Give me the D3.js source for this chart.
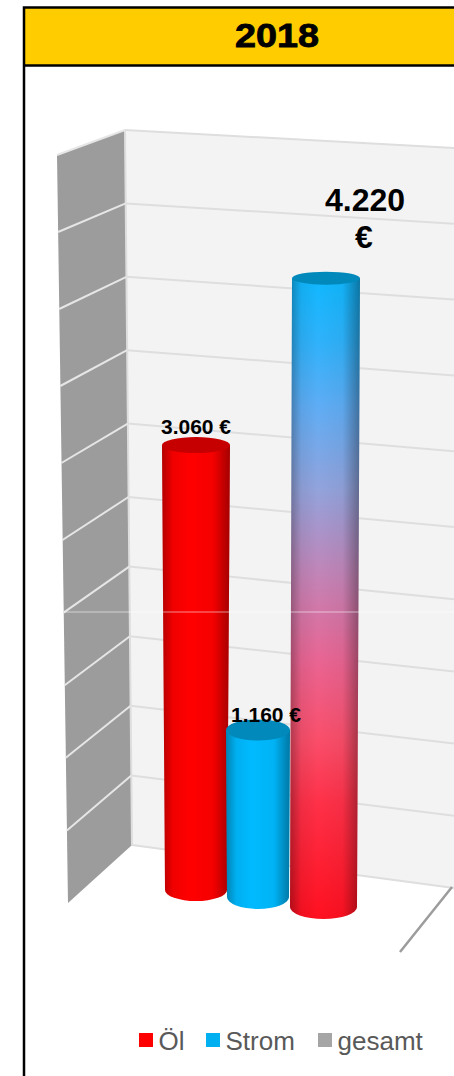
<!DOCTYPE html>
<html>
<head>
<meta charset="utf-8">
<script src="https://cdn.jsdelivr.net/npm/d3@7"></script>
<style>
    html, body { margin: 0; padding: 0; background: #fff; }
    svg { display: block; }
    text { font-family: "Liberation Sans", Arial, sans-serif; }
</style>
</head>
<body>
<svg width="454" height="1076"></svg>
<script>
const title = "2018";
const categories = ["Öl", "Strom", "gesamt"];
const values = [3060, 1160, 4220];
const legendColors = ["#ff0000", "#00b0f0", "#a5a5a5"];
const gridTicks = d3.range(0, 5001, 500);

(() => {
    const svg = d3.select("svg");
    const defs = svg.append("defs");
    const de = d3.formatLocale({ decimal: ",", thousands: ".", grouping: [3], currency: ["", " €"] });
    const euro = v => de.format(",")(v);

    // the plot is a faked 3d box: every edge of it gets its own scale
    const yBack = d3.scaleLinear([0, 2500, 5000], [845, 497, 130]);
    const xBack = d3.scaleLinear([0, 5000], [132, 125]);
    const ySide = d3.scaleLinear([0, 2500, 5000], [903, 540, 155]);
    const xSide = d3.scaleLinear([0, 5000], [68, 57]);
    const yRight = d3.scaleLinear([0, 2500, 5000], [888, 527, 148]);

    // walls
    const top = 5000, line = d3.line();
    svg.append("path")
        .attr("d", line([[xBack(top), yBack(top)], [454, yRight(top)], [454, yRight(0)], [xBack(0), yBack(0)]]) + "Z")
        .attr("fill", "#f3f3f3");
    svg.append("path")
        .attr("d", line([[xSide(top), ySide(top)], [xBack(top), yBack(top)], [xBack(0), yBack(0)], [xSide(0), ySide(0)]]) + "Z")
        .attr("fill", "#9c9c9c");
    svg.append("path")
        .attr("d", line([[xBack(top), yBack(top)], [xBack(0), yBack(0)]]))
        .attr("stroke", "#dedede").attr("stroke-width", 2).attr("fill", "none");

    // gridlines on both walls
    svg.append("g").selectAll("path")
        .data(gridTicks)
        .join("path")
        .attr("d", t => line([[xBack(t), yBack(t)], [454, yRight(t)]]))
        .attr("stroke", "#dedede").attr("stroke-width", 2).attr("fill", "none");
    svg.append("g").selectAll("path")
        .data(gridTicks.slice(1))
        .join("path")
        .attr("d", t => line([[xSide(t), ySide(t)], [xBack(t), yBack(t)]]))
        .attr("stroke", "#e6e6e6").attr("stroke-width", 2).attr("fill", "none");

    // floor edge coming towards the viewer
    svg.append("path")
        .attr("d", line([[452, yRight(0) - 1], [400, 952]]))
        .attr("stroke", "#9c9c9c").attr("stroke-width", 2.5).attr("fill", "none");

    // cylinders, nearer ones are a little bigger
    const barBase = [890, 897, 907];
    const barUnit = [0.1454, 0.144, 0.149];
    const barX = [196, 258, 323.5];
    const barLean = [0, 0, 2.5];
    const capRy = [8, 10.5, 6.5];
    const baseRy = [11, 12, 12];
    const baseHalf = [31, 31, 33.5];
    const topHalf = [34, 32, 34];
    const yBar = categories.map((c, i) => d3.scaleLinear([0, 5000], [barBase[i], barBase[i] - 5000 * barUnit[i]]));
    const xBar = categories.map((c, i) => d3.scaleLinear([0, values[i]], [barX[i], barX[i] + barLean[i]]));

    // horizontal shading that goes over every body
    const shade = defs.append("linearGradient").attr("id", "shade");
    [[0, .3], [.16, .06], [.4, 0], [.75, .04], [1, .36]].forEach(s => {
        shade.append("stop").attr("offset", s[0]).attr("stop-color", "#000").attr("stop-opacity", s[1]);
    });
    // the total bar fades from blue into red
    const fade = defs.append("linearGradient").attr("id", "fade").attr("x2", 0).attr("y2", 1);
    [[0, "#10b8ff"], [.1, "#2fb2fb"], [.2, "#5fadf5"], [.33, "#93a3dc"], [.46, "#c285b8"],
     [.6, "#ea6492"], [.72, "#fa4e6a"], [.82, "#ff3048"], [1, "#ff1020"]].forEach(s => {
        fade.append("stop").attr("offset", s[0]).attr("stop-color", s[1]);
    });

    const bodyFill = ["#ff0000", "#00baff", "url(#fade)"];
    const capFill = ["#c60000", "#0089ba", "#0089ba"];
    const body = i => {
        const v = values[i], rb = baseHalf[i], rt = topHalf[i];
        const xb = xBar[i](0), xt = xBar[i](v), yb = yBar[i](0), yt = yBar[i](v);
        return `M${xt - rt},${yt} L${xb - rb},${yb} A${rb},${baseRy[i]} 0 0 0 ${xb + rb},${yb} L${xt + rt},${yt} Z`;
    };
    const bars = svg.append("g").selectAll("g")
        .data(categories)
        .join("g");
    bars.append("path").attr("d", (c, i) => body(i)).attr("fill", (c, i) => bodyFill[i]);
    bars.append("path").attr("d", (c, i) => body(i)).attr("fill", "url(#shade)");
    bars.append("ellipse")
        .attr("cx", (c, i) => xBar[i](values[i]))
        .attr("cy", (c, i) => yBar[i](values[i]))
        .attr("rx", (c, i) => topHalf[i])
        .attr("ry", (c, i) => capRy[i])
        .attr("fill", (c, i) => capFill[i]);

    // thin seam running through the picture
    svg.append("path")
        .attr("d", line([[64, 612], [454, 612]]))
        .attr("stroke", "#fff").attr("stroke-opacity", .55).attr("fill", "none");

    // value labels
    svg.append("text")
        .attr("x", 196).attr("y", 433.5)
        .attr("text-anchor", "middle").attr("font-size", 21).attr("font-weight", "bold")
        .text(euro(values[0]) + " €");
    svg.append("text")
        .attr("x", 266).attr("y", 722)
        .attr("text-anchor", "middle").attr("font-size", 21).attr("font-weight", "bold")
        .text(euro(values[1]) + " €");
    const big = svg.append("text")
        .attr("text-anchor", "middle").attr("font-size", 32).attr("font-weight", "bold");
    big.append("tspan").attr("x", 365).attr("y", 211).text(euro(values[2]));
    big.append("tspan").attr("x", 364).attr("y", 248).text("€");

    // legend
    const legendX = [139, 206, 318];
    const legend = svg.append("g").selectAll("g")
        .data(categories)
        .join("g")
        .attr("transform", (c, i) => `translate(${legendX[i]},1033)`);
    legend.append("rect")
        .attr("width", 14).attr("height", 14)
        .attr("fill", (c, i) => legendColors[i]);
    legend.append("text")
        .attr("x", 19.5).attr("y", 17)
        .attr("font-size", 26).attr("fill", "#595959")
        .text(c => c);

    // header band and frame
    svg.append("rect")
        .attr("x", 24).attr("y", 7).attr("width", 430).attr("height", 58)
        .attr("fill", "#ffcc00");
    svg.append("path")
        .attr("d", "M24,1076 V7.5 H454 M24,65.5 H454")
        .attr("stroke", "#000").attr("stroke-width", 2.5).attr("fill", "none");
    svg.append("text")
        .attr("x", 277).attr("y", 47)
        .attr("text-anchor", "middle").attr("font-size", 33).attr("font-weight", "bold")
        .attr("stroke", "#000").attr("stroke-width", .8)
        .attr("textLength", 84).attr("lengthAdjust", "spacingAndGlyphs")
        .text(title);
})();
</script>
</body>
</html>
